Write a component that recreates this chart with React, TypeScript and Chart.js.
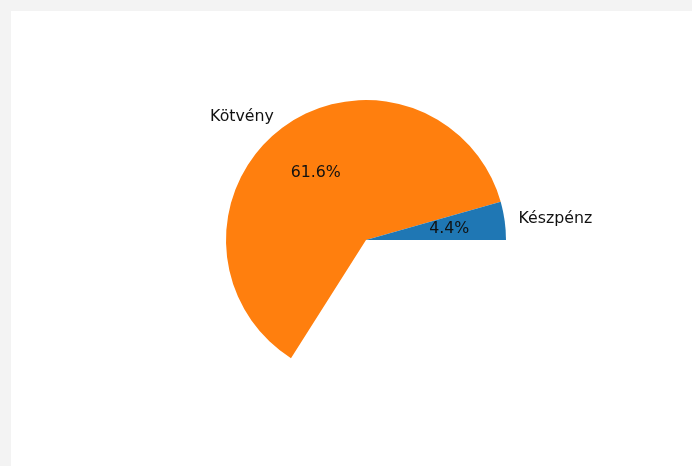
import React, { useEffect, useRef } from "react";
import { Chart, registerables } from "chart.js";

Chart.register(...registerables);

// Data (matplotlib-style partial pie: fractions sum < 1)
const categories = ["Készpénz", "Kötvény"];
const fractions = [0.044, 0.616];
const colors = ["#1f77b4", "#ff7f0e"];

const FONT = '15.8px "DejaVu Sans", sans-serif';

const labelPlugin = {
  id: "pieLabels",
  afterDatasetsDraw(chart: any) {
    const ctx = chart.ctx;
    const meta = chart.getDatasetMeta(0);
    const labels: string[] = chart.data.labels;
    const vals: number[] = chart.data.datasets[0].data;
    ctx.save();
    ctx.font = FONT;
    ctx.fillStyle = "#111";
    ctx.textBaseline = "middle";
    meta.data.forEach((arc: any, i: number) => {
      const lab = labels[i];
      if (!lab) return;
      const p = arc.getProps(["x", "y", "startAngle", "endAngle", "outerRadius"], true);
      const mid = (p.startAngle + p.endAngle) / 2;
      const lx = p.x + Math.cos(mid) * p.outerRadius * 1.1;
      const ly = p.y + Math.sin(mid) * p.outerRadius * 1.1;
      ctx.textAlign = lx > p.x ? "left" : "right";
      ctx.fillText(lab, lx, ly);
      const px = p.x + Math.cos(mid) * p.outerRadius * 0.6;
      const py = p.y + Math.sin(mid) * p.outerRadius * 0.6;
      ctx.textAlign = "center";
      ctx.fillText((vals[i] * 100).toFixed(1) + "%", px, py);
    });
    ctx.restore();
  },
};

export default function App() {
  const ref = useRef<HTMLCanvasElement | null>(null);
  useEffect(() => {
    if (!ref.current) return;
    const total = fractions.reduce((a, b) => a + b, 0);
    // matplotlib draws counter-clockwise from 3 o'clock; Chart.js clockwise.
    const order = categories.map((_, i) => i).reverse();
    const data = order.map((i) => fractions[i]);
    const bg = order.map((i) => colors[i]);
    const labs = order.map((i) => categories[i]);
    data.push(1 - total);
    bg.push("rgba(0,0,0,0)");
    labs.push("");
    const rotation = 90 - total * 360 + 360;
    const chart = new Chart(ref.current, {
      type: "pie",
      data: {
        labels: labs,
        datasets: [
          {
            data,
            backgroundColor: bg,
            borderWidth: 0,
            hoverOffset: 0,
          },
        ],
      },
      options: {
        animation: false,
        responsive: false,
        rotation,
        layout: { padding: { left: 215, right: 186, top: 89, bottom: 86 } },
        plugins: { legend: { display: false }, tooltip: { enabled: false } },
        events: [],
      },
      plugins: [labelPlugin],
    });
    return () => chart.destroy();
  }, []);
  return (
    <div
      style={{
        position: "absolute",
        left: 0,
        top: 0,
        width: 692,
        height: 466,
        background: "#f3f3f3",
        overflow: "hidden",
      }}
    >
      <div
        style={{
          position: "absolute",
          left: 11,
          top: 11,
          width: 681,
          height: 455,
          background: "#ffffff",
        }}
      >
        <canvas ref={ref} width={681} height={455} style={{ display: "block" }} />
      </div>
    </div>
  );
}
